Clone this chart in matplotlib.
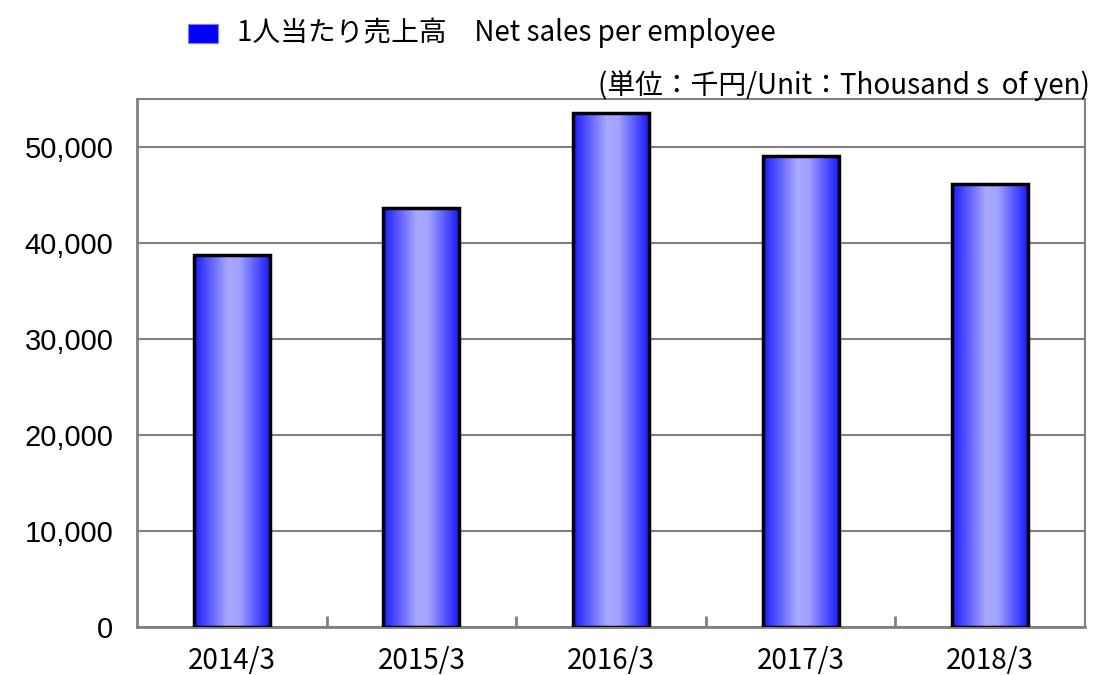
import numpy as np
import matplotlib
matplotlib.use("Agg")
import matplotlib.pyplot as plt
from matplotlib.patches import Rectangle
from matplotlib.colors import LinearSegmentedColormap

plt.rcParams['font.family'] = ['Noto Sans CJK JP', 'DejaVu Sans']

years = ["2014/3", "2015/3", "2016/3", "2017/3", "2018/3"]
sales_per_employee = [38750, 43650, 53550, 49050, 46150]
legend_label = "1人当たり売上高　Net sales per employee"
unit_label = "(単位：千円/Unit：Thousand s  of yen)"

fig = plt.figure(figsize=(10.94, 6.75), dpi=100)
ax = fig.add_axes([137 / 1094, 1 - 627 / 675, 948 / 1094, 528 / 675])

x = np.arange(len(years))
bars = ax.bar(x, sales_per_employee, width=0.4, color="none",
              edgecolor="black", linewidth=2.5, zorder=3)

# horizontal gradient: blue edges, pale lavender near the middle
grad = LinearSegmentedColormap.from_list(
    "barfade", [(0.0, "#1a1aff"), (0.45, "#a9a9ff"), (0.6, "#a2a2ff"), (1.0, "#1a1aff")])
g = np.linspace(0, 1, 256).reshape(1, -1)
for b in bars:
    x0, y0 = b.get_x(), b.get_y()
    im = ax.imshow(g, cmap=grad, aspect="auto", zorder=2,
                   extent=[x0, x0 + b.get_width(), y0, y0 + b.get_height()])
    im.set_clip_path(b)

ax.set_xlim(-0.5, len(years) - 0.5)
ax.set_ylim(0, 55000)
ax.set_yticks(range(0, 50001, 10000))
ax.yaxis.set_major_formatter(matplotlib.ticker.FuncFormatter(lambda v, p: f"{int(v):,}"))
ax.set_xticks(x)
ax.set_xticklabels(years)
ax.set_xticks(np.arange(0.5, len(years) - 0.5, 1), minor=True)
ax.tick_params(axis="x", which="major", length=0, pad=14, labelsize=20)
ax.tick_params(axis="x", which="minor", length=8, direction="in", color="#808080", width=2)
ax.tick_params(axis="y", length=0, pad=17, labelsize=21)
for lab in ax.get_yticklabels():
    lab.set_family(["Liberation Sans", "DejaVu Sans"])

ax.grid(axis="y", color="#808080", linewidth=1.5, zorder=1)
for s in ax.spines.values():
    s.set_color("#808080")
    s.set_linewidth(2)
ax.spines["top"].set_linewidth(1.5)
ax.spines["right"].set_linewidth(1.5)

fig.patches.append(Rectangle((188 / 1094, 1 - 43 / 675), 30 / 1094, 19 / 675,
                             transform=fig.transFigure, facecolor="#0000ff",
                             edgecolor="#8080ff", linewidth=0.8))
fig.text(237 / 1094, 1 - 33 / 675, legend_label, fontsize=20, va="center", ha="left")
fig.text(1090 / 1094, 1 - 86 / 675, unit_label, fontsize=20, va="center", ha="right")

fig.savefig("out.png", dpi=100)
